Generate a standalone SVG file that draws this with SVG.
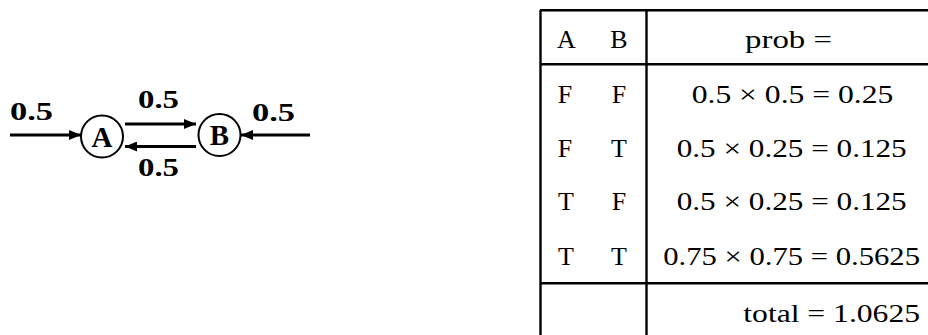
<svg xmlns="http://www.w3.org/2000/svg" width="928" height="335" viewBox="0 0 928 335">
<style>
.lbl{font-family:"Liberation Serif","DejaVu Serif",serif;font-weight:bold;font-size:26px;fill:#000}
.nl{font-family:"Liberation Serif","DejaVu Serif",serif;font-weight:bold;font-size:29px;fill:#000}
.t{font-family:"Liberation Serif","DejaVu Serif",serif;font-size:26px;fill:#000}
.node circle{fill:#fff;stroke:#000;stroke-width:2}
.edge{stroke:#000;stroke-width:3;fill:none}
.grid{stroke:#000;stroke-width:2.4;fill:none}
</style>
<defs>
<marker id="ah" markerUnits="userSpaceOnUse" markerWidth="12" markerHeight="10" refX="12" refY="5" orient="auto">
<path d="M0,0 L12,5 L0,10 Z" fill="#000"/>
</marker>
</defs>
<g id="connectors">
<line class="edge" x1="10" y1="135" x2="81" y2="135" marker-end="url(#ah)"/>
<line class="edge" x1="125" y1="124" x2="196" y2="124" marker-end="url(#ah)"/>
<line class="edge" x1="196" y1="146.5" x2="125" y2="146.5" marker-end="url(#ah)"/>
<line class="edge" x1="310" y1="135" x2="241" y2="135" marker-end="url(#ah)"/>
</g>
<g id="labels">
<text class="lbl" x="10" y="120" textLength="43" lengthAdjust="spacingAndGlyphs">0.5</text>
<text class="lbl" x="138" y="108" textLength="41" lengthAdjust="spacingAndGlyphs">0.5</text>
<text class="lbl" x="138" y="176" textLength="41" lengthAdjust="spacingAndGlyphs">0.5</text>
<text class="lbl" x="252" y="121" textLength="43" lengthAdjust="spacingAndGlyphs">0.5</text>
</g>
<g id="nodeA" class="node">
<circle cx="102" cy="136.5" r="21"/>
<text class="nl" x="102" y="146.5" text-anchor="middle">A</text>
</g>
<g id="nodeB" class="node">
<circle cx="219.5" cy="135" r="21"/>
<text class="nl" x="219.5" y="145" text-anchor="middle">B</text>
</g>
<g id="table">
<line class="grid" x1="540.5" y1="10" x2="540.5" y2="335"/>
<line class="grid" x1="646.5" y1="10" x2="646.5" y2="335"/>
<line class="grid" x1="540" y1="10.3" x2="928" y2="10.3"/>
<line class="grid" x1="540" y1="64.3" x2="928" y2="64.3"/>
<line class="grid" x1="540" y1="283.3" x2="928" y2="283.3"/>
<text class="t" x="566.5" y="48" text-anchor="middle">A</text>
<text class="t" x="619" y="48" text-anchor="middle">B</text>
<text class="t" x="745" y="48" textLength="87" lengthAdjust="spacingAndGlyphs">prob =</text>
<text class="t" x="565" y="103" text-anchor="middle">F</text>
<text class="t" x="619" y="103" text-anchor="middle">F</text>
<text class="t" x="691.7" y="103" textLength="201.6" lengthAdjust="spacingAndGlyphs">0.5 × 0.5 = 0.25</text>
<text class="t" x="565" y="157" text-anchor="middle">F</text>
<text class="t" x="619" y="157" text-anchor="middle">T</text>
<text class="t" x="676.7" y="157" textLength="230" lengthAdjust="spacingAndGlyphs">0.5 × 0.25 = 0.125</text>
<text class="t" x="566" y="210" text-anchor="middle">T</text>
<text class="t" x="619" y="210" text-anchor="middle">F</text>
<text class="t" x="676.7" y="210" textLength="230" lengthAdjust="spacingAndGlyphs">0.5 × 0.25 = 0.125</text>
<text class="t" x="566" y="265" text-anchor="middle">T</text>
<text class="t" x="619" y="265" text-anchor="middle">T</text>
<text class="t" x="663.3" y="265" textLength="256.7" lengthAdjust="spacingAndGlyphs">0.75 × 0.75 = 0.5625</text>
<text class="t" x="743.3" y="322" textLength="176.7" lengthAdjust="spacingAndGlyphs">total = 1.0625</text>
</g>
</svg>
